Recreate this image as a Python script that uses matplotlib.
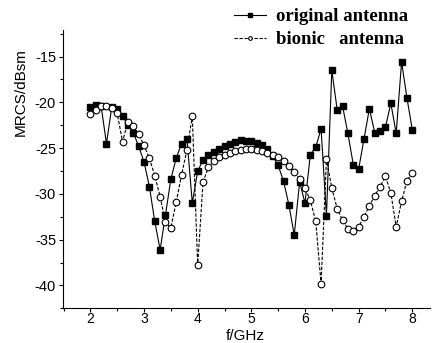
import matplotlib
matplotlib.use("Agg")
import matplotlib.pyplot as plt
from matplotlib.ticker import MultipleLocator

freq = [2.0, 2.1, 2.2, 2.3, 2.4, 2.5, 2.6, 2.7, 2.8, 2.9,
        3.0, 3.1, 3.2, 3.3, 3.4, 3.5, 3.6, 3.7, 3.8, 3.9,
        4.0, 4.1, 4.2, 4.3, 4.4, 4.5, 4.6, 4.7, 4.8, 4.9,
        5.0, 5.1, 5.2, 5.3, 5.4, 5.5, 5.6, 5.7, 5.8, 5.9,
        6.0, 6.1, 6.2, 6.3, 6.4, 6.5, 6.6, 6.7, 6.8, 6.9,
        7.0, 7.1, 7.2, 7.3, 7.4, 7.5, 7.6, 7.7, 7.8, 7.9, 8.0]

original = [-20.5, -20.3, -20.4, -24.5, -20.5, -20.7, -21.5, -22.5, -23.3, -24.8,
            -26.5, -29.2, -33.0, -36.1, -32.3, -28.4, -26.1, -24.5, -24.0, -31.0,
            -27.5, -26.3, -25.8, -25.4, -25.1, -24.8, -24.5, -24.3, -24.1, -24.2,
            -24.2, -24.4, -24.7, -25.1, -25.9, -26.9, -28.6, -31.2, -34.5, -28.7,
            -31.0, -25.7, -24.9, -22.9, -32.4, -16.5, -20.8, -20.4, -23.4, -26.8,
            -27.3, -24.0, -20.7, -23.3, -23.1, -22.7, -20.1, -23.4, -15.6, -19.5, -23.0]

bionic = [-21.3, -20.8, -20.4, -20.4, -20.6, -21.2, -24.3, -22.1, -22.6, -23.5,
          -24.7, -26.1, -28.0, -30.3, -33.1, -33.7, -30.9, -27.9, -25.2, -21.5,
          -37.8, -28.7, -27.1, -26.4, -26.0, -25.7, -25.5, -25.3, -25.2, -25.1,
          -25.1, -25.2, -25.3, -25.5, -25.7, -26.0, -26.4, -27.0, -27.6, -28.4,
          -29.4, -30.7, -33.0, -39.8, -26.2, -29.4, -31.6, -32.9, -33.8, -34.1,
          -33.6, -32.5, -31.3, -30.2, -29.2, -28.1, -29.9, -33.6, -30.8, -28.6, -27.7]

xticks = [2, 3, 4, 5, 6, 7, 8]
yticks = [-40, -35, -30, -25, -20, -15]

plt.rcParams['axes.unicode_minus'] = False
plt.rcParams['font.family'] = ['Liberation Sans', 'DejaVu Sans']

W, H = 433, 343
fig = plt.figure(figsize=(W / 100, H / 100), dpi=100)
ax = fig.add_axes([63 / W, 1 - 308.3 / H, (430 - 63) / W, (308.3 - 30) / H])

ax.plot(freq, original, color='black', lw=0.8, ls='-', marker='s', ms=4.6,
        mfc='black', mec='black', label='original antenna')
ax.plot(freq, bionic, color='black', lw=0.8, ls=(0, (3, 1.5)), marker='o', ms=4.8,
        mfc='white', mec='black', mew=0.8, label='bionic   antenna')

ax.set_xlim(1.49, 8.33)
ax.set_ylim(-42.5, -12.1)
ax.set_xticks(xticks)
ax.set_yticks(yticks)
ax.xaxis.set_minor_locator(MultipleLocator(0.5))
ax.yaxis.set_minor_locator(MultipleLocator(2.5))
ax.tick_params(which='major', direction='out', length=3, width=0.8, labelsize=10.5, pad=2)
ax.tick_params(which='minor', direction='out', length=2, width=0.8)
ax.tick_params(axis='x', which='major', labelsize=10, pad=-0.5)
for s in ['top', 'right']:
    ax.spines[s].set_visible(False)
for s in ['left', 'bottom']:
    ax.spines[s].set_linewidth(0.8)

ax.set_xlabel('f/GHz', fontsize=11)
ax.xaxis.set_label_coords((245 - 63) / 367, -(343 - 308.3) / 278.3)
ax.xaxis.label.set_va('bottom')
ax.set_ylabel('MRCS/dBsm', fontsize=11)
ax.yaxis.set_label_coords((21 - 63) / 367, (308.3 - 92) / 278.3)
ax.yaxis.label.set_va('center')

leg = fig.legend(loc='upper left', bbox_to_anchor=(223 / W, 1 + 3 / H), frameon=False,
                 prop={'family': 'Liberation Serif', 'weight': 'bold', 'size': 13.5},
                 markerscale=0.55, handlelength=1.7, handletextpad=0.5,
                 labelspacing=0.3, borderpad=0.1)

fig.savefig('out.png', dpi=100)
